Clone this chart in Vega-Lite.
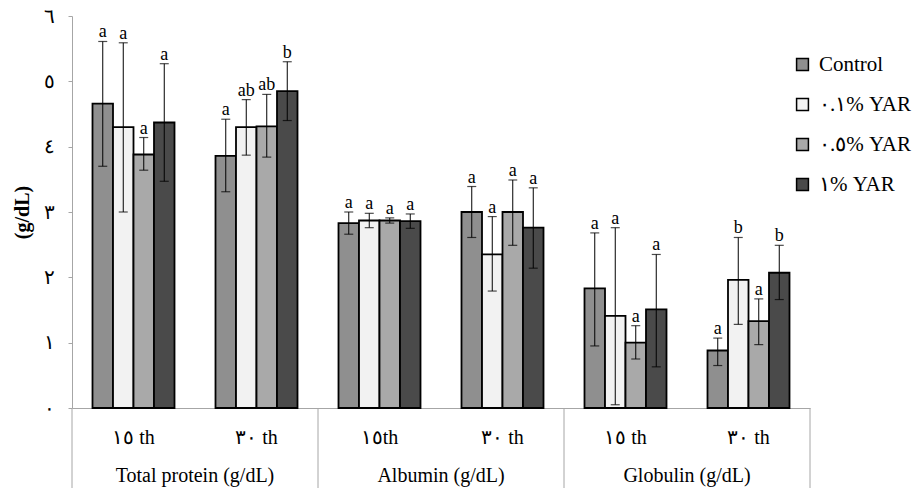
{
  "$schema": "https://vega.github.io/schema/vega-lite/v6.json",
  "width": 738,
  "height": 392,
  "autosize": {"type": "none"},
  "padding": {"left": 72, "top": 16, "right": 103, "bottom": 80},
  "background": "white",
  "config": {"view": {"stroke": null}, "font": "Liberation Serif"},
  "datasets": {
    "bars": [
      {"cat": "TP15", "trt": "Control", "mean": 4.66, "lo": 3.70, "hi": 5.61, "sig": "a"},
      {"cat": "TP15", "trt": "٠.١% YAR", "mean": 4.30, "lo": 3.00, "hi": 5.59, "sig": "a"},
      {"cat": "TP15", "trt": "٠.٥% YAR", "mean": 3.88, "lo": 3.64, "hi": 4.14, "sig": "a"},
      {"cat": "TP15", "trt": "١% YAR", "mean": 4.37, "lo": 3.47, "hi": 5.27, "sig": "a"},
      {"cat": "TP30", "trt": "Control", "mean": 3.86, "lo": 3.31, "hi": 4.42, "sig": "a"},
      {"cat": "TP30", "trt": "٠.١% YAR", "mean": 4.30, "lo": 3.87, "hi": 4.72, "sig": "ab"},
      {"cat": "TP30", "trt": "٠.٥% YAR", "mean": 4.31, "lo": 3.84, "hi": 4.80, "sig": "ab"},
      {"cat": "TP30", "trt": "١% YAR", "mean": 4.85, "lo": 4.40, "hi": 5.30, "sig": "b"},
      {"cat": "AL15", "trt": "Control", "mean": 2.83, "lo": 2.66, "hi": 3.00, "sig": "a"},
      {"cat": "AL15", "trt": "٠.١% YAR", "mean": 2.87, "lo": 2.76, "hi": 2.98, "sig": "a"},
      {"cat": "AL15", "trt": "٠.٥% YAR", "mean": 2.87, "lo": 2.83, "hi": 2.91, "sig": "a"},
      {"cat": "AL15", "trt": "١% YAR", "mean": 2.86, "lo": 2.75, "hi": 2.97, "sig": "a"},
      {"cat": "AL30", "trt": "Control", "mean": 3.00, "lo": 2.61, "hi": 3.39, "sig": "a"},
      {"cat": "AL30", "trt": "٠.١% YAR", "mean": 2.35, "lo": 1.79, "hi": 2.93, "sig": "a"},
      {"cat": "AL30", "trt": "٠.٥% YAR", "mean": 3.00, "lo": 2.49, "hi": 3.49, "sig": "a"},
      {"cat": "AL30", "trt": "١% YAR", "mean": 2.76, "lo": 2.14, "hi": 3.37, "sig": "a"},
      {"cat": "GL15", "trt": "Control", "mean": 1.83, "lo": 0.95, "hi": 2.68, "sig": "a"},
      {"cat": "GL15", "trt": "٠.١% YAR", "mean": 1.41, "lo": 0.05, "hi": 2.76, "sig": "a"},
      {"cat": "GL15", "trt": "٠.٥% YAR", "mean": 1.00, "lo": 0.75, "hi": 1.26, "sig": "a"},
      {"cat": "GL15", "trt": "١% YAR", "mean": 1.51, "lo": 0.63, "hi": 2.35, "sig": "a"},
      {"cat": "GL30", "trt": "Control", "mean": 0.88, "lo": 0.65, "hi": 1.07, "sig": "a"},
      {"cat": "GL30", "trt": "٠.١% YAR", "mean": 1.96, "lo": 1.28, "hi": 2.61, "sig": "b"},
      {"cat": "GL30", "trt": "٠.٥% YAR", "mean": 1.33, "lo": 0.97, "hi": 1.67, "sig": "a"},
      {"cat": "GL30", "trt": "١% YAR", "mean": 2.07, "lo": 1.66, "hi": 2.49, "sig": "b"}
    ],
    "groups": [
      {"cat": "TP30", "label": "Total protein (g/dL)"},
      {"cat": "AL30", "label": "Albumin (g/dL)"},
      {"cat": "GL30", "label": "Globulin (g/dL)"}
    ],
    "seps": [{"cat": "TP15"}, {"cat": "AL15"}, {"cat": "GL15"}],
    "sepEnd": [{"cat": "GL30"}]
  },
  "layer": [
    {
      "data": {"name": "bars"},
      "mark": {"type": "bar", "stroke": "black", "strokeWidth": 1.8},
      "encoding": {
        "x": {
          "field": "cat", "type": "nominal",
          "sort": ["TP15", "TP30", "AL15", "AL30", "GL15", "GL30"],
          "scale": {"paddingInner": 0, "paddingOuter": 0},
          "axis": {
            "title": null, "labelAngle": 0, "ticks": false,
            "domainColor": "#a6a6a6", "domainWidth": 1,
            "labelExpr": "{'TP15':'١٥ th','TP30':'٣٠ th','AL15':'١٥th','AL30':'٣٠ th','GL15':'١٥ th','GL30':'٣٠ th'}[datum.value]",
            "labelFontSize": 20, "labelColor": "black", "labelPadding": 29, "labelBaseline": "middle"
          }
        },
        "xOffset": {
          "field": "trt", "type": "nominal",
          "sort": ["Control", "٠.١% YAR", "٠.٥% YAR", "١% YAR"],
          "scale": {"paddingInner": 0, "paddingOuter": 1.46}
        },
        "y": {
          "field": "mean", "type": "quantitative",
          "scale": {"domain": [0, 6], "nice": false},
          "axis": {
            "values": [0, 1, 2, 3, 4, 5, 6],
            "labelExpr": "['٠','١','٢','٣','٤','٥','٦'][datum.value]",
            "grid": false, "tickSize": 4, "tickColor": "#a6a6a6", "domainColor": "#a6a6a6",
            "labelFontSize": 20, "labelColor": "black", "labelPadding": 14,
            "title": "(g/dL)", "titleFontSize": 20, "titleFontWeight": "bold", "titleColor": "black",
            "titleFont": "Liberation Serif", "titlePadding": 11
          }
        },
        "color": {
          "field": "trt", "type": "nominal",
          "sort": ["Control", "٠.١% YAR", "٠.٥% YAR", "١% YAR"],
          "scale": {
            "domain": ["Control", "٠.١% YAR", "٠.٥% YAR", "١% YAR"],
            "range": ["#8f8f8f", "#f2f2f2", "#a9a9a9", "#4a4a4a"]
          },
          "legend": {
            "orient": "none", "legendX": 720, "legendY": 38, "title": null,
            "symbolType": "square", "symbolSize": 140, "symbolStrokeColor": "black",
            "symbolStrokeWidth": 1.5, "labelFontSize": 21, "labelFont": "Liberation Serif",
            "labelColor": "black", "rowPadding": 18, "labelOffset": 6
          }
        }
      }
    },
    {
      "data": {"name": "bars"},
      "mark": {"type": "rule", "color": "black", "strokeWidth": 1},
      "encoding": {
        "x": {"field": "cat", "type": "nominal", "sort": ["TP15", "TP30", "AL15", "AL30", "GL15", "GL30"]},
        "xOffset": {"field": "trt", "type": "nominal", "sort": ["Control", "٠.١% YAR", "٠.٥% YAR", "١% YAR"]},
        "y": {"field": "lo", "type": "quantitative"},
        "y2": {"field": "hi"}
      }
    },
    {
      "data": {"name": "bars"},
      "mark": {"type": "tick", "color": "black", "thickness": 1.2, "size": 9, "orient": "horizontal"},
      "encoding": {
        "x": {"field": "cat", "type": "nominal", "sort": ["TP15", "TP30", "AL15", "AL30", "GL15", "GL30"]},
        "xOffset": {"field": "trt", "type": "nominal", "sort": ["Control", "٠.١% YAR", "٠.٥% YAR", "١% YAR"]},
        "y": {"field": "hi", "type": "quantitative"}
      }
    },
    {
      "data": {"name": "bars"},
      "mark": {"type": "tick", "color": "black", "thickness": 1.2, "size": 9, "orient": "horizontal"},
      "encoding": {
        "x": {"field": "cat", "type": "nominal", "sort": ["TP15", "TP30", "AL15", "AL30", "GL15", "GL30"]},
        "xOffset": {"field": "trt", "type": "nominal", "sort": ["Control", "٠.١% YAR", "٠.٥% YAR", "١% YAR"]},
        "y": {"field": "lo", "type": "quantitative"}
      }
    },
    {
      "data": {"name": "bars"},
      "mark": {"type": "text", "font": "Liberation Serif", "fontSize": 18, "color": "black", "baseline": "alphabetic", "dy": -4},
      "encoding": {
        "x": {"field": "cat", "type": "nominal", "sort": ["TP15", "TP30", "AL15", "AL30", "GL15", "GL30"]},
        "xOffset": {"field": "trt", "type": "nominal", "sort": ["Control", "٠.١% YAR", "٠.٥% YAR", "١% YAR"]},
        "y": {"field": "hi", "type": "quantitative"},
        "text": {"field": "sig"}
      }
    },
    {
      "data": {"name": "seps"},
      "mark": {"type": "rule", "color": "#a6a6a6", "strokeWidth": 1},
      "encoding": {
        "x": {"field": "cat", "type": "nominal", "bandPosition": 0, "sort": ["TP15", "TP30", "AL15", "AL30", "GL15", "GL30"]},
        "y": {"datum": 0},
        "y2": {"datum": -1.23}
      }
    },
    {
      "data": {"name": "sepEnd"},
      "mark": {"type": "rule", "color": "#a6a6a6", "strokeWidth": 1},
      "encoding": {
        "x": {"field": "cat", "type": "nominal", "bandPosition": 1, "sort": ["TP15", "TP30", "AL15", "AL30", "GL15", "GL30"]},
        "y": {"datum": 0},
        "y2": {"datum": -1.23}
      }
    },
    {
      "data": {"name": "groups"},
      "mark": {"type": "text", "font": "Liberation Serif", "fontSize": 20, "color": "black", "baseline": "middle"},
      "encoding": {
        "x": {"field": "cat", "type": "nominal", "bandPosition": 0, "sort": ["TP15", "TP30", "AL15", "AL30", "GL15", "GL30"]},
        "y": {"datum": -1.04},
        "text": {"field": "label"}
      }
    }
  ]
}
